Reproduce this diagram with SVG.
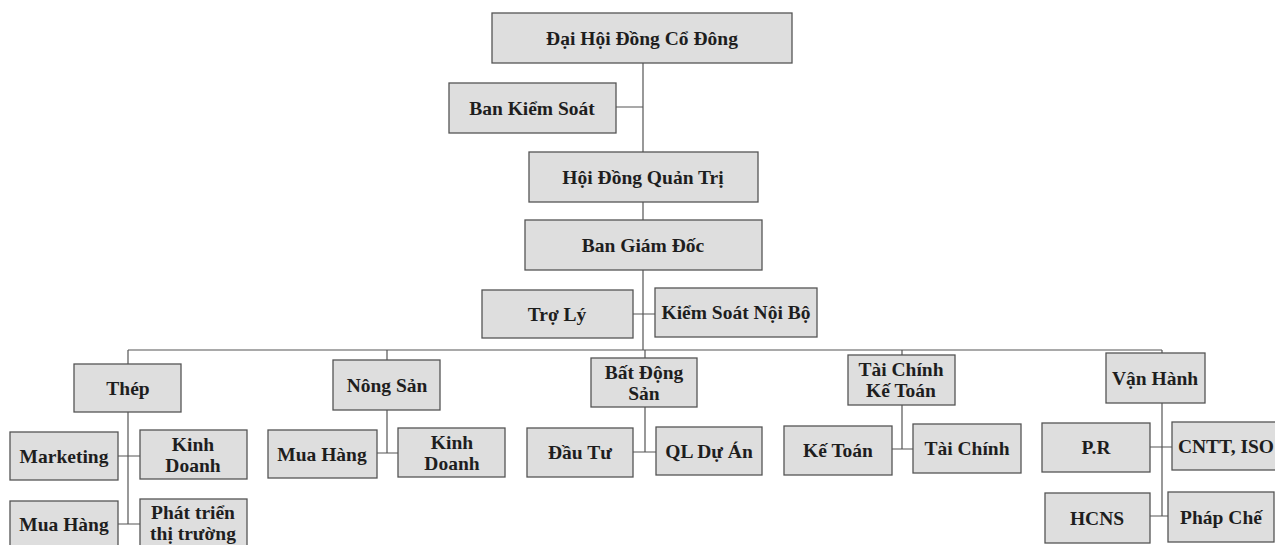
<svg xmlns="http://www.w3.org/2000/svg" width="1275" height="545" viewBox="0 0 1275 545">
<style>
.b{fill:#dedede;stroke:#555;stroke-width:1.3}
.t{font-family:"Liberation Serif","DejaVu Serif",serif;font-weight:bold;font-size:19.5px;fill:#1e1e1e;text-anchor:middle}
.c{fill:none;stroke:#555;stroke-width:1.2}
</style>
<rect width="1275" height="545" fill="#ffffff"/>
<g id="connectors">
<path class="c" d="M643 63V152M616 107H643M643 202V220M643 270V350M633 314H655"/>
<path class="c" d="M128 350H1162M128 350V364M387 350V360M645 350V358M902 350V355M1162 350V353"/>
<path class="c" d="M128 412V524M118 456H140M118 524H140"/>
<path class="c" d="M387 410V453H377M387 453H398"/>
<path class="c" d="M645 407V452H633M645 452H656"/>
<path class="c" d="M902 405V449H892M902 449H913"/>
<path class="c" d="M1162 403V516M1150 447H1172M1150 516H1168"/>
</g>
<g id="dhdcd"><rect class="b" x="492" y="13" width="300" height="50"/><text class="t" x="642" y="45">Đại Hội Đồng Cổ Đông</text></g>
<g id="bks"><rect class="b" x="449" y="83" width="167" height="50"/><text class="t" x="532" y="115">Ban Kiểm Soát</text></g>
<g id="hdqt"><rect class="b" x="529" y="152" width="229" height="50"/><text class="t" x="643" y="184">Hội Đồng Quản Trị</text></g>
<g id="bgd"><rect class="b" x="525" y="220" width="237" height="50"/><text class="t" x="643" y="252">Ban Giám Đốc</text></g>
<g id="trol"><rect class="b" x="482" y="290" width="151" height="48"/><text class="t" x="557" y="321">Trợ Lý</text></g>
<g id="ksnb"><rect class="b" x="655" y="288" width="162" height="49"/><text class="t" x="736" y="319">Kiểm Soát Nội Bộ</text></g>
<g id="thep"><rect class="b" x="74" y="364" width="107" height="48"/><text class="t" x="128" y="395">Thép</text></g>
<g id="marketing"><rect class="b" x="10" y="432" width="108" height="48"/><text class="t" x="64" y="463">Marketing</text></g>
<g id="kd1"><rect class="b" x="140" y="430" width="107" height="49"/><text class="t" x="193" y="451">Kinh</text><text class="t" x="193" y="472">Doanh</text></g>
<g id="mh1"><rect class="b" x="10" y="501" width="108" height="48"/><text class="t" x="64" y="531">Mua Hàng</text></g>
<g id="pttt"><rect class="b" x="140" y="499" width="107" height="50"/><text class="t" x="193" y="519">Phát triển</text><text class="t" x="193" y="540">thị trường</text></g>
<g id="nongsan"><rect class="b" x="333" y="360" width="107" height="50"/><text class="t" x="387" y="392">Nông Sản</text></g>
<g id="mh2"><rect class="b" x="268" y="430" width="109" height="48"/><text class="t" x="322" y="461">Mua Hàng</text></g>
<g id="kd2"><rect class="b" x="398" y="428" width="107" height="49"/><text class="t" x="452" y="449">Kinh</text><text class="t" x="452" y="470">Doanh</text></g>
<g id="bds"><rect class="b" x="591" y="358" width="106" height="49"/><text class="t" x="644" y="379">Bất Động</text><text class="t" x="644" y="400">Sản</text></g>
<g id="dautu"><rect class="b" x="527" y="428" width="106" height="49"/><text class="t" x="580" y="459">Đầu Tư</text></g>
<g id="qlda"><rect class="b" x="656" y="427" width="106" height="48"/><text class="t" x="709" y="458">QL Dự Án</text></g>
<g id="tckt"><rect class="b" x="848" y="355" width="107" height="50"/><text class="t" x="901" y="376">Tài Chính</text><text class="t" x="901" y="397">Kế Toán</text></g>
<g id="ketoan"><rect class="b" x="784" y="426" width="108" height="49"/><text class="t" x="838" y="457">Kế Toán</text></g>
<g id="taichinh"><rect class="b" x="913" y="424" width="108" height="49"/><text class="t" x="967" y="455">Tài Chính</text></g>
<g id="vanhanh"><rect class="b" x="1106" y="353" width="99" height="50"/><text class="t" x="1155" y="385">Vận Hành</text></g>
<g id="pr"><rect class="b" x="1042" y="423" width="108" height="49"/><text class="t" x="1096" y="454">P.R</text></g>
<g id="cntt"><rect class="b" x="1172" y="422" width="110" height="48"/><text class="t" x="1226" y="453">CNTT, ISO</text></g>
<g id="hcns"><rect class="b" x="1045" y="493" width="105" height="50"/><text class="t" x="1097" y="525">HCNS</text></g>
<g id="phapche"><rect class="b" x="1168" y="492" width="106" height="50"/><text class="t" x="1221" y="524">Pháp Chế</text></g>
</svg>
